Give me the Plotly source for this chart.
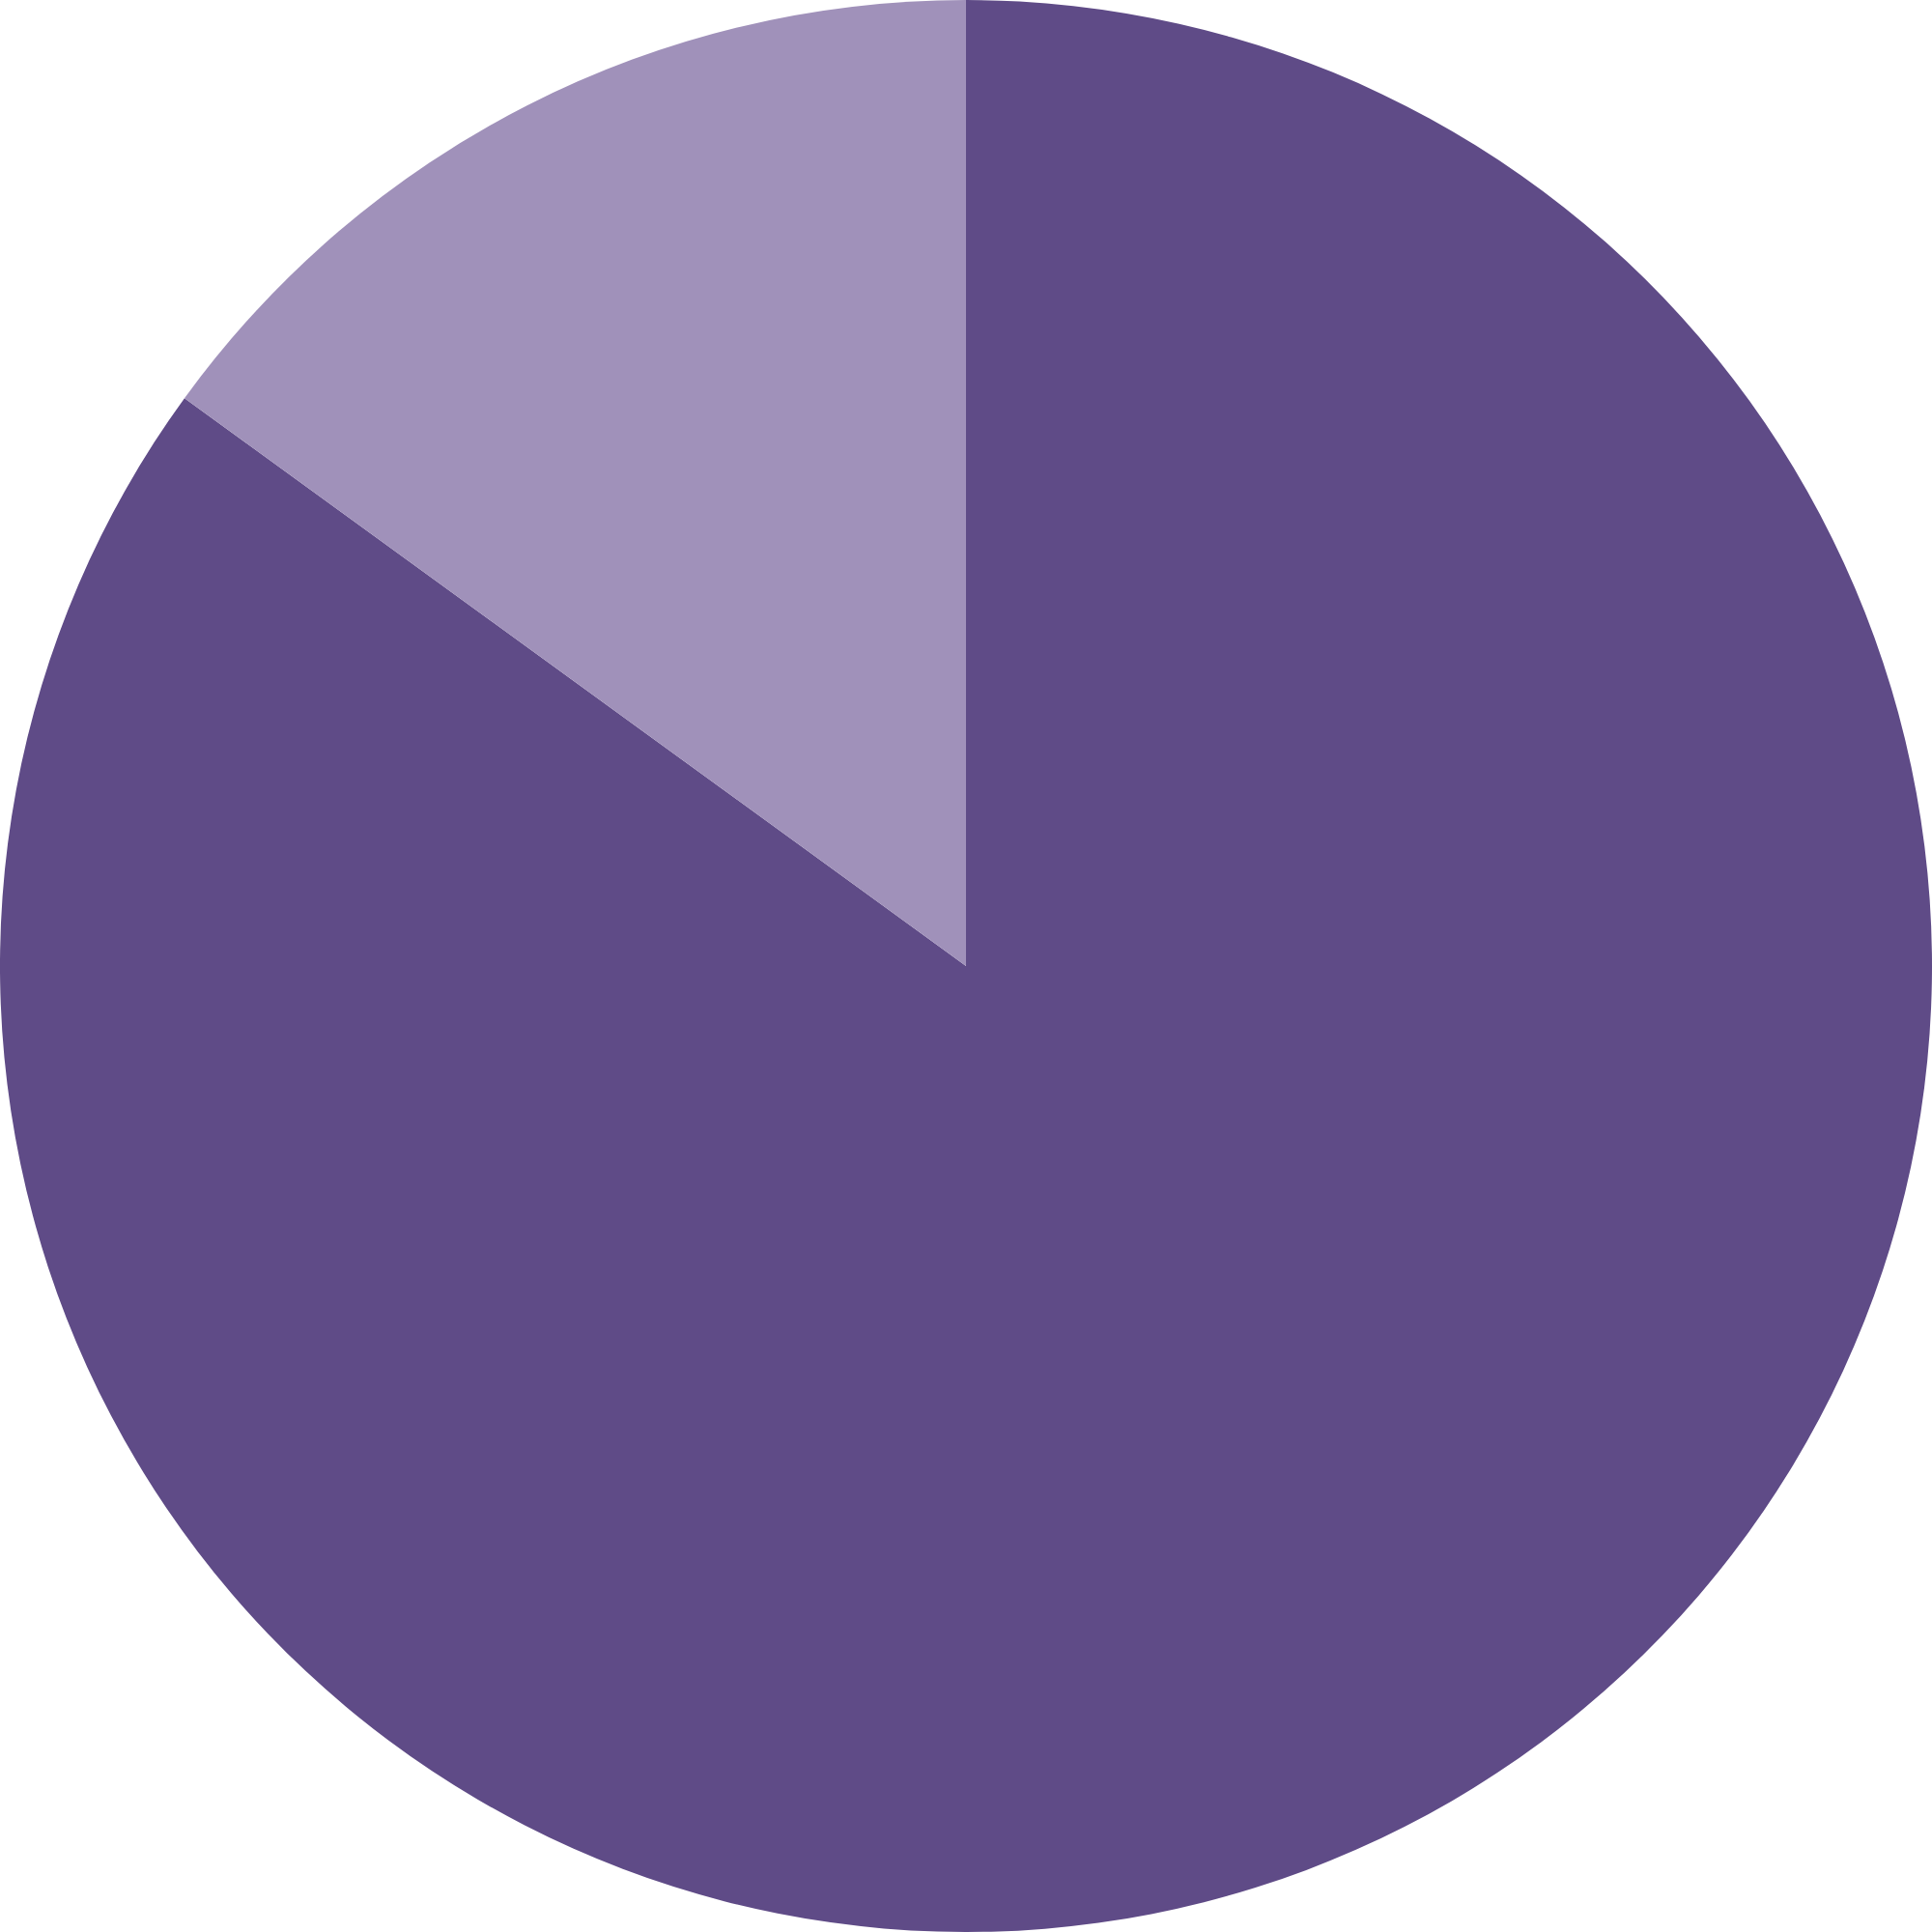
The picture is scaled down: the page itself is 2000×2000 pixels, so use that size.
import plotly.graph_objects as go

labels = ["A", "B"]
values = [85, 15]
colors = ["#5F4B87", "#A091BA"]

fig = go.Figure()

fig.add_trace(go.Pie(
    labels=labels,
    values=values,
    sort=False,
    direction="clockwise",
    rotation=0,
    textinfo="none",
    hoverinfo="label+percent",
    marker=dict(colors=colors, line=dict(width=0)),
    domain=dict(x=[0, 1], y=[0, 1]),
))

fig.update_layout(
    width=2000,
    height=2000,
    margin=dict(l=0, r=0, t=0, b=0),
    showlegend=False,
    paper_bgcolor="white",
    plot_bgcolor="white",
)

# убираем отступ body, чтобы график стоял ровно в углу окна
fig.write_html(
    "out.html",
    config={"displayModeBar": False},
    post_script="document.body.style.margin='0';document.body.style.overflow='hidden';",
)
